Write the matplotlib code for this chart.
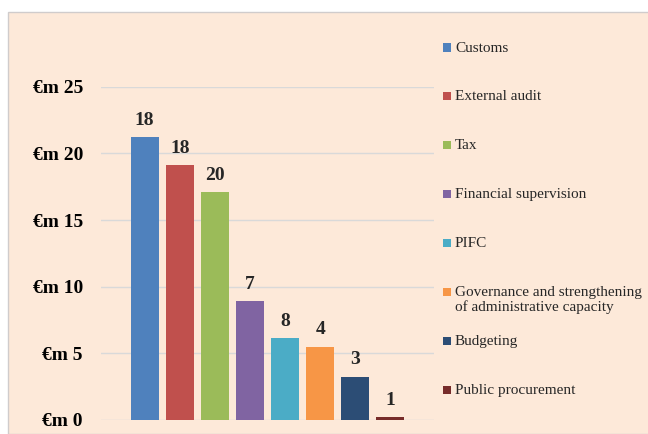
import matplotlib.pyplot as plt
from matplotlib.patches import Rectangle

# data
areas = ['Customs', 'External audit', 'Tax', 'Financial supervision', 'PIFC',
         'Governance and strengthening\nof administrative capacity',
         'Budgeting', 'Public procurement']
amounts = [21.2, 19.1, 17.1, 8.9, 6.15, 5.5, 3.25, 0.22]   # EUR million
n_projects = [18, 18, 20, 7, 8, 4, 3, 1]
yticks = [0, 5, 10, 15, 20, 25]
colors = ['#4F81BD', '#C0504D', '#9BBB59', '#8064A2', '#4BACC6',
          '#F79646', '#2C4D75', '#772C2A']

plt.rcParams['font.family'] = ['Liberation Serif', 'DejaVu Serif']
bg = '#FDE9D9'

fig = plt.figure(figsize=(6.48, 4.34), dpi=100)
fig.patch.set_facecolor('white')

# peach chart area with a thin grey border
fig.patches.append(Rectangle((8 / 648, 0), 1, 1 - 12 / 434, transform=fig.transFigure,
                             facecolor=bg, edgecolor='#D0CCCC', linewidth=1, zorder=-5))

ax = fig.add_axes([101 / 648, 14 / 434, 333 / 648, 333.3 / 434])
ax.set_facecolor('none')
ax.set_zorder(2)

x = list(range(len(amounts)))
bars = ax.bar(x, amounts, width=0.79, color=colors, zorder=3)
for xi, v, n in zip(x, amounts, n_projects):
    ax.annotate(str(n), (xi, v), xytext=(0, 6), textcoords='offset points',
                ha='center', va='bottom', fontsize=14, fontweight='bold', color='#262626')

ax.set_xlim(-1.245, 8.245)
ax.set_ylim(0, 25)
ax.set_yticks(yticks)
ax.set_yticklabels([f'€m {t}' for t in yticks], fontsize=14, fontweight='bold')
ax.tick_params(axis='y', length=0, pad=13)
ax.set_xticks([])
ax.yaxis.grid(True, color='#D9D9D9', linewidth=1)
ax.set_axisbelow(True)
for s in ax.spines.values():
    s.set_visible(False)

# legend drawn by hand, evenly spaced like the Excel one
for i, (lab, c) in enumerate(zip(areas, colors)):
    yc = 47.5 + i * 48.9
    fig.patches.append(Rectangle((443 / 648, 1 - (yc + 4) / 434), 8 / 648, 8 / 434,
                                 transform=fig.transFigure, facecolor=c, zorder=2))
    fig.text(455 / 648, 1 - (yc - 6) / 434, lab, fontsize=11, va='top', ha='left',
             linespacing=1.1, color='#262626')

fig.savefig('out.png', dpi=100, facecolor=fig.get_facecolor())
